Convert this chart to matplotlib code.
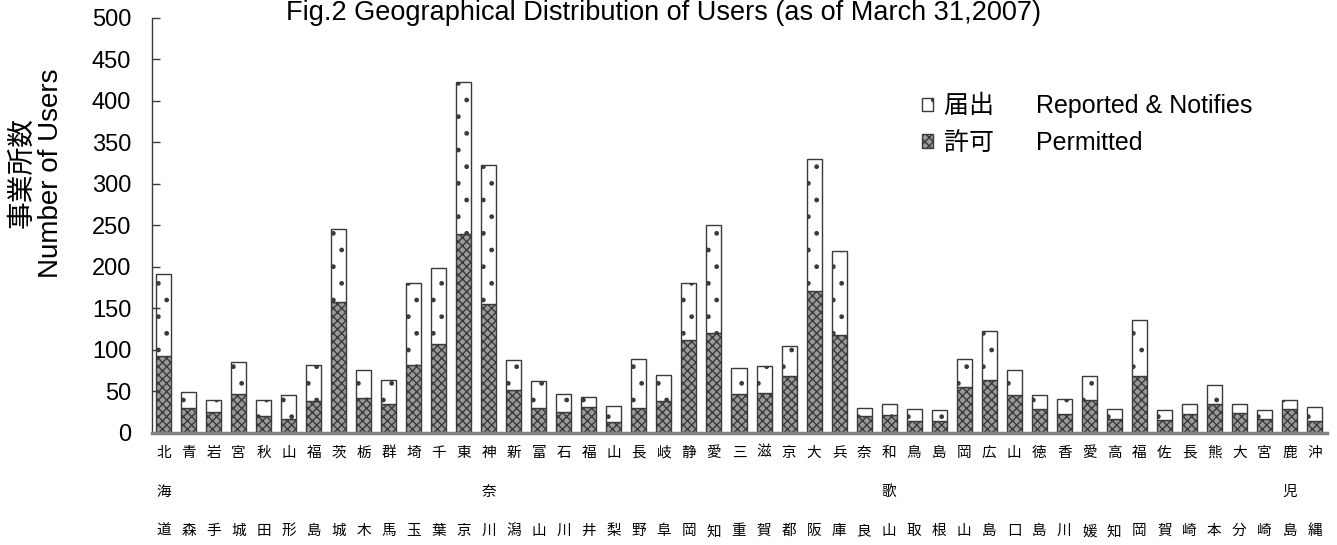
import matplotlib.pyplot as plt
import numpy as np

plt.rcParams['font.family'] = ['Liberation Sans', 'Noto Sans CJK JP', 'DejaVu Sans']
plt.rcParams['hatch.linewidth'] = 1.0

# prefectures, written top to bottom under each bar
prefectures = ["北海道", "青森", "岩手", "宮城", "秋田", "山形", "福島", "茨城", "栃木", "群馬",
               "埼玉", "千葉", "東京", "神奈川", "新潟", "富山", "石川", "福井", "山梨", "長野",
               "岐阜", "静岡", "愛知", "三重", "滋賀", "京都", "大阪", "兵庫", "奈良", "和歌山",
               "鳥取", "島根", "岡山", "広島", "山口", "徳島", "香川", "愛媛", "高知", "福岡",
               "佐賀", "長崎", "熊本", "大分", "宮崎", "鹿児島", "沖縄"]

permitted = [92, 30, 25, 47, 20, 17, 38, 157, 42, 34,
             81, 107, 240, 155, 52, 30, 25, 31, 13, 30,
             38, 112, 120, 47, 48, 68, 171, 118, 20, 21,
             14, 14, 55, 64, 45, 28, 23, 39, 17, 68,
             15, 23, 34, 24, 17, 28, 14]

reported = [99, 19, 15, 38, 20, 29, 44, 88, 34, 30,
            99, 91, 183, 168, 36, 32, 22, 12, 19, 59,
            32, 68, 130, 31, 32, 37, 159, 101, 10, 13,
            15, 13, 34, 59, 31, 18, 18, 29, 11, 68,
            12, 12, 23, 11, 10, 11, 17]

yticks = [0, 50, 100, 150, 200, 250, 300, 350, 400, 450, 500]

W, H = 1337, 545
fig = plt.figure(figsize=(W / 100, H / 100), dpi=100)
ax = fig.add_axes([152 / W, 1 - 432.7 / H, 1175 / W, 415 / H])

x = np.arange(len(prefectures))
edge = '#3a3a3a'
b1 = ax.bar(x, permitted, width=0.6, facecolor='#9a9a9a', edgecolor=edge,
            hatch='xxxx', linewidth=1.0)
b2 = ax.bar(x, reported, width=0.6, bottom=permitted, facecolor='white',
            edgecolor=edge, hatch='.', linewidth=1.0)

ax.set_xlim(-0.46, 46.5)
ax.set_ylim(0, 500)
ax.set_yticks(yticks)
ax.set_xticks([])
ax.tick_params(axis='y', direction='in', length=6, width=1, color=edge,
               labelsize=17, pad=15)

for s in ['top', 'right']:
    ax.spines[s].set_visible(False)
ax.spines['left'].set_color(edge)
ax.spines['left'].set_linewidth(1.0)
ax.spines['bottom'].set_color('#808080')
ax.spines['bottom'].set_linewidth(2.5)

# x labels: 3 rows of characters, 2-char names skip the middle row
rows = [-20 / 415, -59 / 415, -98.5 / 415]
trans = ax.get_xaxis_transform()
for i, name in enumerate(prefectures):
    if len(name) == 2:
        chars = [name[0], '', name[1]]
    else:
        chars = list(name)
    for r, c in zip(rows, chars):
        if c:
            ax.text(i, r, c, transform=trans, ha='center', va='center', fontsize=10.5)

fig.text(37 / W, 1 - 173 / H, "事業所数\nNumber of Users", rotation=90,
         ha='center', va='center', fontsize=20, linespacing=1.15)

fig.text(663 / W, 1 - 20 / H, "Fig.2 Geographical Distribution of Users (as of March 31,2007)",
         ha='center', va='baseline', fontsize=19.5)

ax.legend([b2, b1], ["届出      Reported & Notifies", "許可      Permitted"],
          loc='upper left', bbox_to_anchor=(922 / W, 1 - 92 / H),
          bbox_transform=fig.transFigure, frameon=False, fontsize=18,
          handlelength=0.45, handleheight=0.45, handletextpad=0.45,
          labelspacing=0.5, borderpad=0, borderaxespad=0)

plt.savefig('out.png', dpi=100)
